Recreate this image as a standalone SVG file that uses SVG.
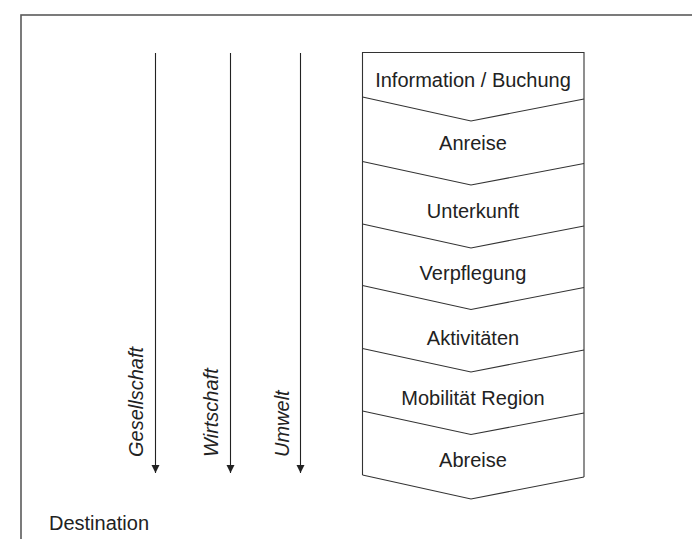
<svg xmlns="http://www.w3.org/2000/svg" width="692" height="539" viewBox="0 0 692 539">
  <style>
    .frame { fill: none; stroke: #5a5a5a; stroke-width: 1.6; }
    .chev { fill: none; stroke: #333; stroke-width: 1.1; }
    .arr { stroke: #222; stroke-width: 1.1; fill: none; }
    .lbl { font-family: "Liberation Sans", Arial, sans-serif; font-size: 20px; fill: #222; }
    .c { text-anchor: middle; }
    .it { font-style: italic; }
  </style>
  <defs>
    <marker id="ah" viewBox="0 0 8 12" refX="8" refY="6" markerWidth="8" markerHeight="12" markerUnits="userSpaceOnUse" orient="auto">
      <path d="M0,2 L8,6 L0,10 Z" fill="#222"/>
    </marker>
  </defs>
  <rect class="frame" x="21" y="15" width="700" height="600"/>
  <g id="connectors">
    <line class="arr" x1="155.5" y1="53" x2="155.5" y2="473" marker-end="url(#ah)"/>
    <line class="arr" x1="230.5" y1="53" x2="230.5" y2="473" marker-end="url(#ah)"/>
    <line class="arr" x1="300.5" y1="53" x2="300.5" y2="473" marker-end="url(#ah)"/>
  </g>
  <g id="gesellschaft"><text class="lbl it" transform="translate(143,457) rotate(-90)">Gesellschaft</text></g>
  <g id="wirtschaft"><text class="lbl it" transform="translate(218,457) rotate(-90)">Wirtschaft</text></g>
  <g id="umwelt"><text class="lbl it" transform="translate(289,457) rotate(-90)">Umwelt</text></g>
  <g id="chain">
    <path class="chev" d="M362.5,475 L362.5,52.5 L584,52.5 L584,477"/>
  </g>
  <g id="information"><text class="lbl c" x="473" y="86.5">Information / Buchung</text>
    <path class="chev" d="M362.5,97 L471,121 L584,99"/></g>
  <g id="anreise"><text class="lbl c" x="473" y="150">Anreise</text>
    <path class="chev" d="M362.5,161.5 L471,185 L584,163.5"/></g>
  <g id="unterkunft"><text class="lbl c" x="473" y="218">Unterkunft</text>
    <path class="chev" d="M362.5,224 L471,248 L584,226"/></g>
  <g id="verpflegung"><text class="lbl c" x="473" y="280">Verpflegung</text>
    <path class="chev" d="M362.5,285.5 L471,309.5 L584,287.5"/></g>
  <g id="aktivitaeten"><text class="lbl c" x="473" y="345">Aktivitäten</text>
    <path class="chev" d="M362.5,348.5 L471,372 L584,350"/></g>
  <g id="mobilitaet"><text class="lbl c" x="473" y="405">Mobilität Region</text>
    <path class="chev" d="M362.5,411 L471,434.5 L584,413"/></g>
  <g id="abreise"><text class="lbl c" x="473" y="466.5">Abreise</text>
    <path class="chev" d="M362.5,475 L471,499 L584,477"/></g>
  <g id="destination"><text class="lbl" x="49" y="530">Destination</text></g>
</svg>
